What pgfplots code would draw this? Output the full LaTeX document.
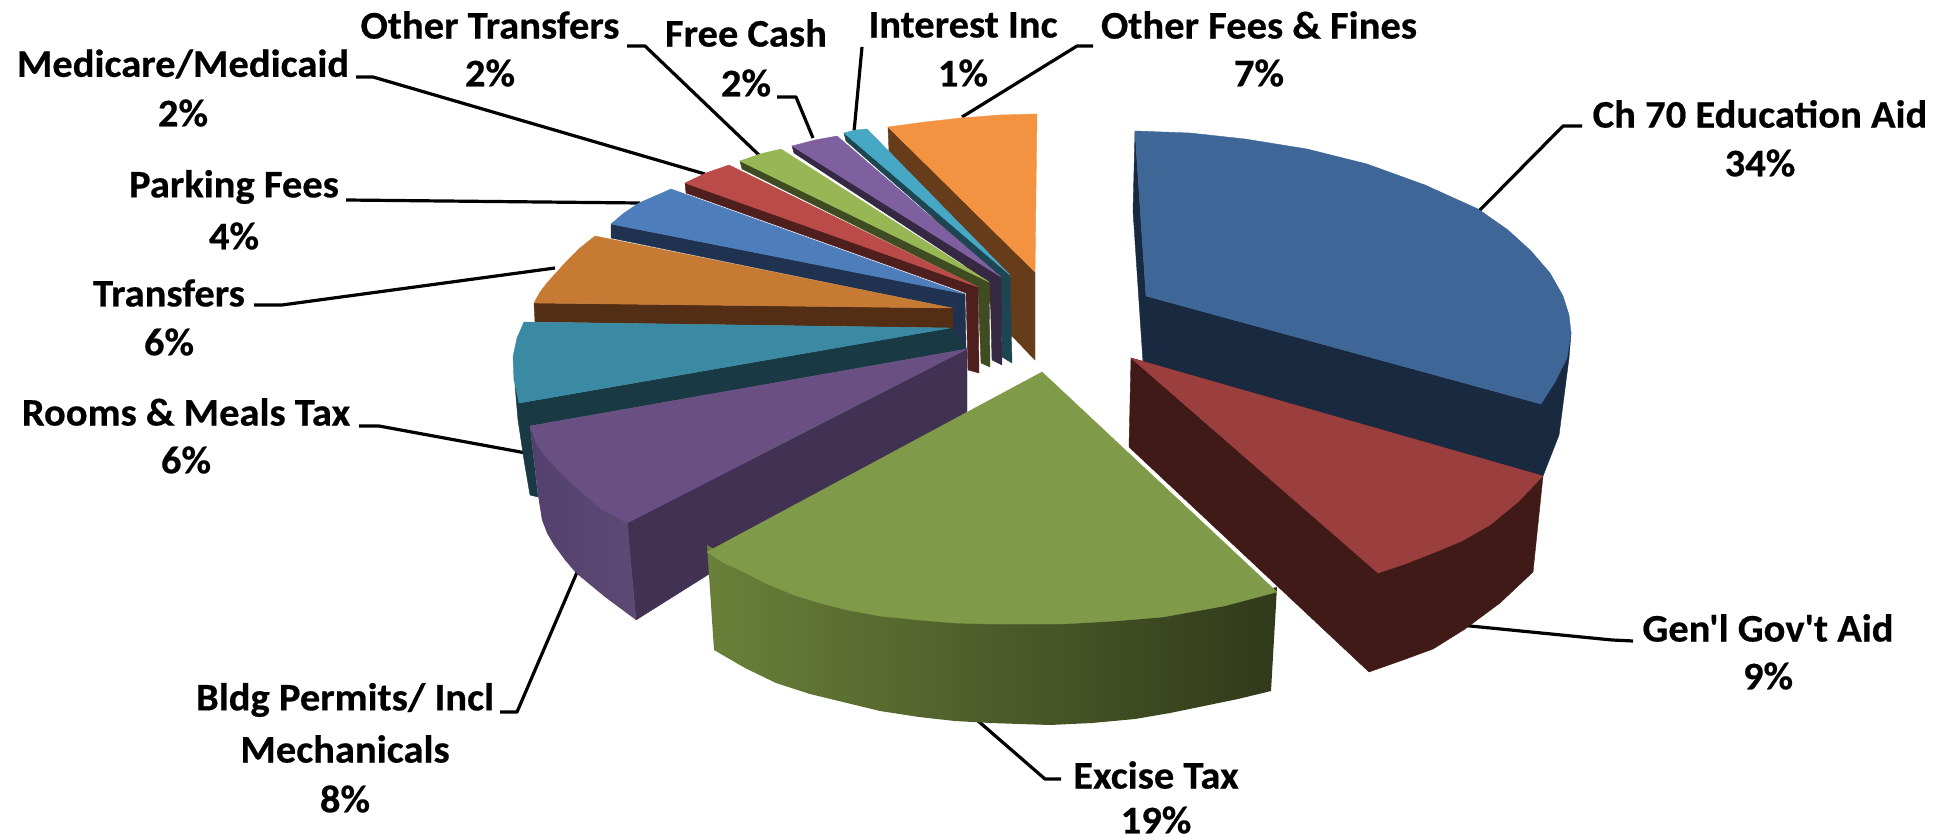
\documentclass[border=0pt]{standalone}
\usepackage{fontspec}
\newfontfamily\labf[FakeStretch=1.04,FakeBold=0.5]{Carlito}
\usepackage{pgfplots}
\pgfplotsset{compat=1.18}
\definecolor{ofbrown}{HTML}{673C1A}
\definecolor{oforange}{HTML}{F39341}
\definecolor{cydark}{HTML}{1D4652}
\definecolor{cytop}{HTML}{46A8C5}
\definecolor{pudark}{HTML}{352842}
\definecolor{putop}{HTML}{7E60A0}
\definecolor{grdark}{HTML}{3F4C22}
\definecolor{grtop}{HTML}{97B755}
\definecolor{redark}{HTML}{4F1F1E}
\definecolor{retop}{HTML}{BB4B48}
\definecolor{pbdark}{HTML}{1F324F}
\definecolor{pbtop}{HTML}{4D7DBB}
\definecolor{trdark}{HTML}{532E15}
\definecolor{trtop}{HTML}{C67A34}
\definecolor{tldark}{HTML}{193A44}
\definecolor{tltop}{HTML}{3A8AA3}
\definecolor{bpside}{HTML}{413254}
\definecolor{bptop}{HTML}{6A5082}
\definecolor{bpl}{HTML}{54406E}
\definecolor{bpr}{HTML}{5C4A74}
\definecolor{bbdark}{HTML}{19293F}
\definecolor{bbtop}{HTML}{3E6797}
\definecolor{brdark}{HTML}{3F1A17}
\definecolor{brtop}{HTML}{9A3F3D}
\definecolor{gsl}{HTML}{6A8039}
\definecolor{gsr}{HTML}{30391A}
\definecolor{gbtop}{HTML}{7F9A48}
\newcommand{\piece}[2]{\addplot[fill=#1,draw=#1,line width=0.2pt] coordinates {#2} --cycle;}
\newcommand{\leader}[1]{\addplot[black,line width=1.6pt,line join=round] coordinates {#1};}
\newcommand{\lab}[3]{\node[font=\labf\fontsize{19.5}{21}\selectfont\bfseries,anchor=center,inner sep=0pt] at (axis cs:#1,#2) {#3};}
\begin{document}
\begin{tikzpicture}
\begin{axis}[scale only axis,width=969.5pt,height=420pt,xmin=0,xmax=1939,ymin=0,ymax=840,y dir=reverse,hide axis,clip=false,enlargelimits=false]
\path (axis cs:0,0) -- (axis cs:1939,840);
% leaders behind slices
\leader{(962,117)(1077,46)(1093,46)}
\leader{(854,132)(862,47)}
\leader{(813,138)(796,97)(777,97)}
\leader{(760,156)(645,46)(627,46)}
\leader{(705,174)(373,77)(356,77)}
\leader{(640,203)(346,200)}
\leader{(555,268)(282,305)(254,305)}
\leader{(526,453)(379,426)(359,426)}
\leader{(578,570)(517,712)(500,712)}
\leader{(977,720)(1045,779)(1061,779)}
\leader{(1460,625)(1612,640)(1633,641)}
\leader{(1478,212)(1563,126)(1582,126)}
% orange Other Fees
\piece{ofbrown}{(888,127)(889,152)(1011,335)(1035,360)(1035,272)}
\piece{oforange}{(888,127)(925,122)(961,118)(1000,115)(1037,114)(1036,190)(1035,272)}
% cyan
\piece{cydark}{(844,133)(846,141)(1001,277)(1002,357)(1012,363)(1010,275)}
\piece{cytop}{(844,133)(855,130)(867,129)(1010,275)}
% small purple
\piece{pudark}{(792,146)(794,153)(990,282)(992,360)(1002,365)(1001,277)}
\piece{putop}{(792,146)(815,140)(837,136)(1001,277)}
% small green
\piece{grdark}{(740,161)(742,169)(978,287)(981,363)(990,367)(989,282)}
\piece{grtop}{(740,161)(760,154)(781,149)(989,282)}
% small red
\piece{redark}{(685,183)(686,193)(966,293)(968,370)(979,373)(978,287)}
\piece{retop}{(685,183)(706,173)(729,165)(978,287)}
% parking blue
\piece{pbdark}{(611,224)(611,238)(952,308)(953,350)(966,348)(965,294)}
\piece{pbtop}{(611,224)(624,213)(639,203)(655,196)(671,189)(965,294)}
% Transfers
\piece{trdark}{(534,303)(535,322)(950,328)(953,350)(953,308)}
\piece{trtop}{(534,303)(540,292)(547,283)(565,263)(580,248)(595,236)(952,308)}
% teal
\piece{tldark}{(515,385)(518,420)(524,460)(530,495)(538,497)(530,426)(967,349)(950,328)(520,403)}
\piece{tltop}{(524,322)(517,338)(513,357)(514,380)(519,403)(950,328)}
% big purple
\piece{bpside}{(967,349)(967,412)(636,620)(627,523)}
\addplot[left color=bpl,right color=bpr,draw=none] coordinates {(530,426)(534,460)(538,495)(542,520)(547,533)(554,545)(565,560)(576,573)(605,597)(636,620)(627,515)(600,498)(579,480)(558,460)(544,448)} --cycle;
\piece{bptop}{(530,426)(536,443)(544,455)(560,472)(579,490)(600,508)(627,523)(967,349)}
% big blue
\piece{bbdark}{(1135,131)(1133,211)(1143,362)(1543,476)(1559,435)(1569,358)(1571,333)(1541,404)(1146,296)}
\piece{bbtop}{(1135,131)(1190,133)(1245,139)(1307,149)(1367,164)(1425,185)(1478,209)(1508,230)(1531,251)(1550,273)(1563,296)(1569,315)(1571,333)(1567,358)(1555,382)(1541,404)(1146,296)}
% big red
\piece{brdark}{(1131,358)(1129,447)(1369,672)(1403,660)(1433,649)(1465,629)(1500,603)(1533,572)(1543,476)}
\piece{brtop}{(1131,358)(1543,476)(1518,502)(1490,525)(1462,541)(1433,553)(1405,564)(1378,573)}
% big green
\addplot[left color=gsl,right color=gsr,draw=none] coordinates {(707,545)(714,650)(745,668)(776,683)(810,694)(847,703)(880,711)(919,717)(955,721)(990,723)(1050,725)(1092,723)(1135,719)(1170,713)(1204,706)(1238,699)(1271,691)(1277,587)(1224,600)(1163,611)(1061,618)(990,618)(919,614)(847,604)(794,589)(740,564)} --cycle;
\piece{gbtop}{(1042,372)(707,552)(722,562)(740,570)(765,583)(794,595)(820,603)(847,610)(880,616)(919,620)(955,623)(990,624)(1061,624)(1115,621)(1163,617)(1224,606)(1277,592)}
% labels
\lab{1760}{114}{Ch 70 Education Aid}
\lab{1760}{163}{34\%}
\lab{1768}{628}{Gen'l Gov't Aid}
\lab{1768}{676}{9\%}
\lab{1156}{775}{Excise Tax}
\lab{1156}{820}{19\%}
\lab{345}{700}{Bldg Permits/ Incl}
\lab{345}{749}{Mechanicals}
\lab{345}{799}{8\%}
\lab{186}{412}{Rooms \& Meals Tax}
\lab{186}{460}{6\%}
\lab{169}{293}{Transfers}
\lab{169}{342}{6\%}
\lab{234}{187}{Parking Fees}
\lab{234}{236}{4\%}
\lab{183}{64}{Medicare/Medicaid}
\lab{183}{113}{2\%}
\lab{490}{25}{Other Transfers}
\lab{490}{73}{2\%}
\lab{746}{33}{Free Cash}
\lab{746}{83}{2\%}
\lab{963}{25}{Interest Inc}
\lab{963}{73}{1\%}
\lab{1259}{25}{Other Fees \& Fines}
\lab{1259}{73}{7\%}
\end{axis}
\end{tikzpicture}
\end{document}
